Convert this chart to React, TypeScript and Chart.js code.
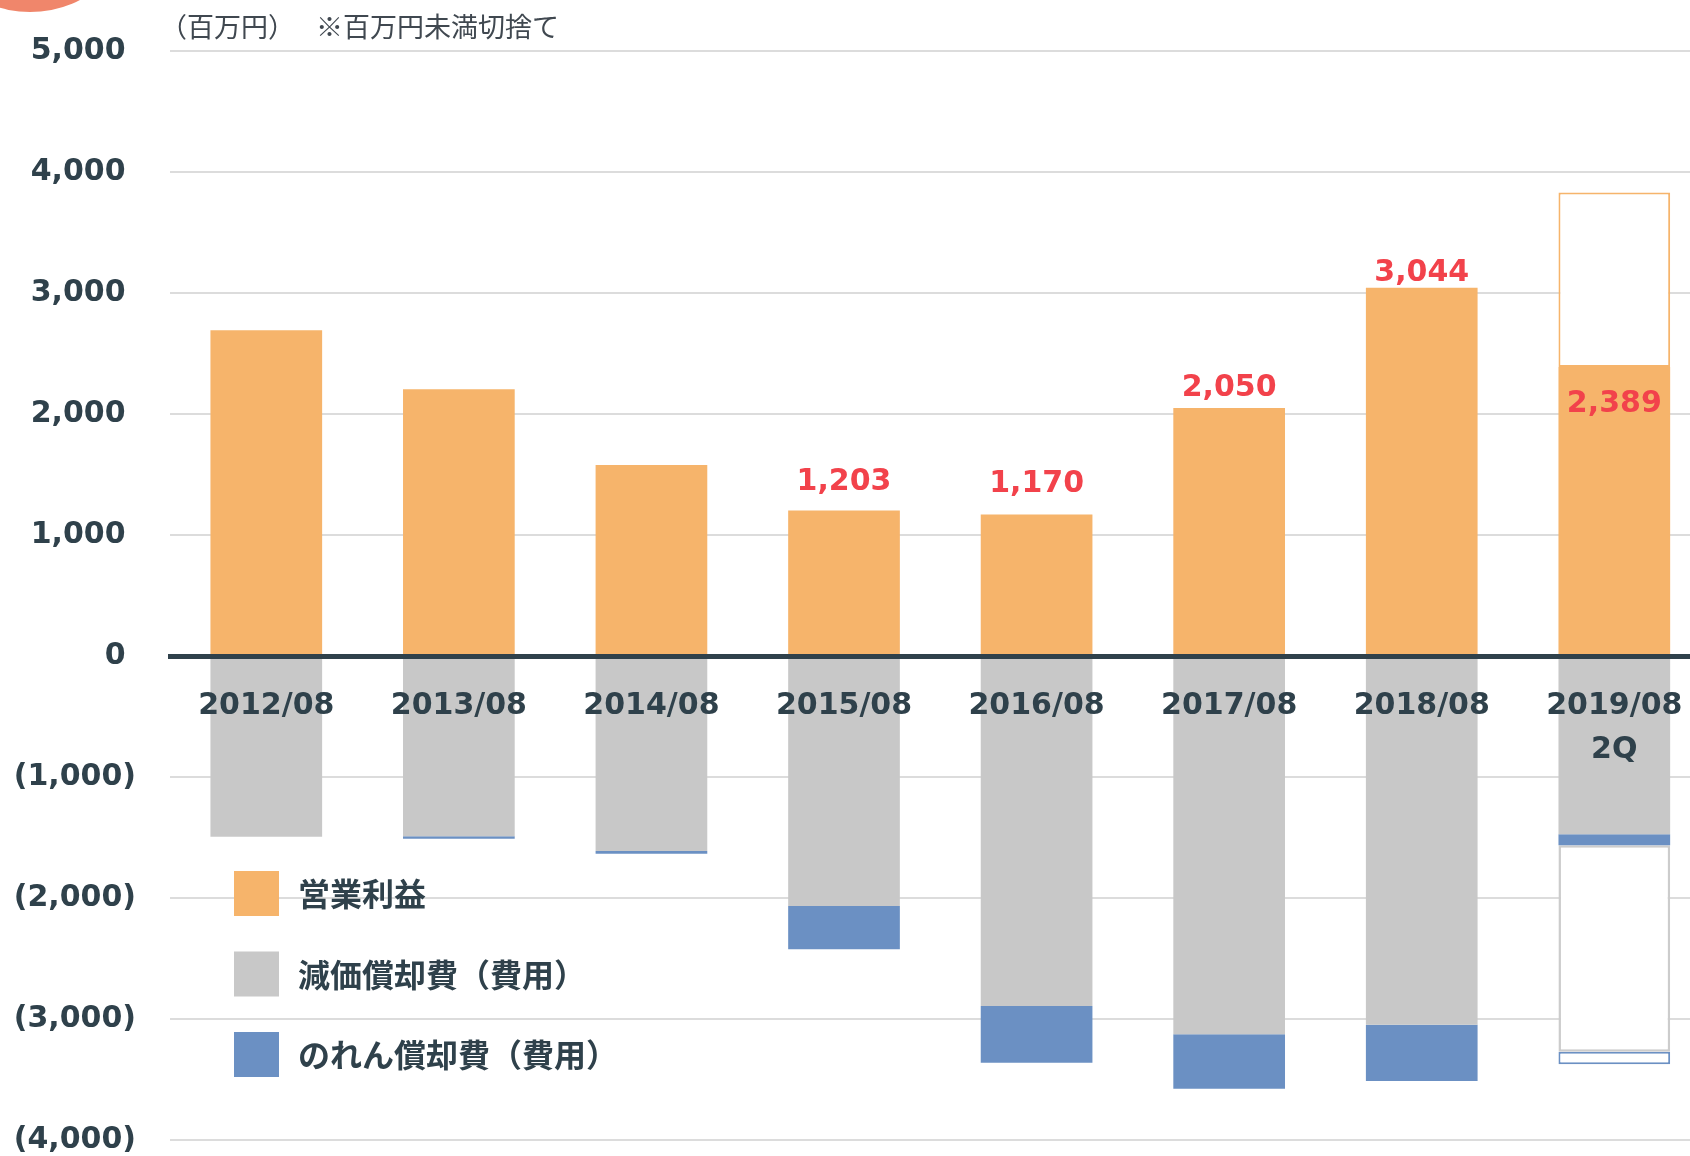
import React, { useEffect, useRef } from 'react';
import { Chart, registerables } from 'chart.js';

Chart.register(...registerables);

// ---- data ----
const categories: (string | string[])[] = [
  '2012/08', '2013/08', '2014/08', '2015/08', '2016/08', '2017/08', '2018/08', ['2019/08', '2Q'],
];
const operatingProfit = [2692, 2204, 1578, 1203, 1170, 2050, 3044, 2389];
const operatingForecastRest = [null, null, null, null, null, null, null, 1441];
const depreciation = [-1493, -1490, -1612, -2066, -2893, -3127, -3047, -1474];
const goodwill = [0, -20, -22, -358, -468, -449, -465, -90];
const depreciationForecastRest = [null, null, null, null, null, null, null, -1706];
const goodwillForecastRest = [null, null, null, null, null, null, null, -104];
const labeledBars = [false, false, false, true, true, true, true, true];
const yMin = -4000;
const yMax = 5000;
const yStep = 1000;
const unitText = '（百万円）';
const noteText = '※百万円未満切捨て';

// ---- styles ----
const ORANGE = '#F6B46B';
const GRAY = '#C8C8C8';
const BLUE = '#6B90C3';
const DARK = '#2F414B';
const RED = '#F2424B';
const TICK_FONT = '"DejaVu Sans", Verdana, sans-serif';
const labelOffsets = [0, 0, 0, 28, 30, 20, 14, -37];

const decorPlugin = {
  id: 'decor',
  afterDraw(chart: any) {
    const ctx = chart.ctx;
    ctx.save();
    ctx.fillStyle = '#F0866B';
    ctx.beginPath();
    ctx.arc(30, -98, 110, 0, Math.PI * 2);
    ctx.fill();
    ctx.fillStyle = '#404850';
    ctx.font = '27px "Noto Sans CJK JP", sans-serif';
    ctx.textBaseline = 'middle';
    ctx.textAlign = 'left';
    ctx.fillText(unitText, 160, 27);
    ctx.fillText(noteText, 316, 27);
    ctx.restore();
  },
};

const legendPlugin = {
  id: 'customLegend',
  afterDraw(chart: any) {
    const ctx = chart.ctx;
    const items = [0, 2, 3];
    ctx.save();
    items.forEach((di, k) => {
      const ds = chart.data.datasets[di];
      const y = 871 + k * 80.5;
      ctx.fillStyle = ds.backgroundColor;
      ctx.fillRect(234, y, 45, 45);
      ctx.fillStyle = DARK;
      ctx.font = 'bold 32px "Noto Sans CJK JP", sans-serif';
      ctx.textBaseline = 'middle';
      ctx.textAlign = 'left';
      ctx.fillText(ds.label, 298, y + 23);
    });
    ctx.restore();
  },
};

const valueLabelPlugin = {
  id: 'valueLabels',
  afterDatasetsDraw(chart: any) {
    const ctx = chart.ctx;
    const meta = chart.getDatasetMeta(0);
    ctx.save();
    ctx.fillStyle = RED;
    ctx.font = `bold 30px ${TICK_FONT}`;
    ctx.textAlign = 'center';
    ctx.textBaseline = 'middle';
    meta.data.forEach((bar: any, i: number) => {
      if (!labeledBars[i]) return;
      const v = operatingProfit[i];
      ctx.fillText(v.toLocaleString('en-US'), bar.x, bar.y - labelOffsets[i]);
    });
    ctx.restore();
  },
};

export default function App() {
  const ref = useRef<HTMLCanvasElement>(null);

  useEffect(() => {
    const canvas = ref.current;
    if (!canvas) return;
    const chart = new Chart(canvas, {
      type: 'bar',
      data: {
        labels: categories,
        datasets: [
          { label: '営業利益', data: operatingProfit, backgroundColor: ORANGE, borderWidth: 0 },
          {
            label: '営業利益（通期予想）', data: operatingForecastRest, backgroundColor: '#FFFFFF',
            borderColor: ORANGE, borderWidth: 2, borderSkipped: false,
          },
          { label: '減価償却費（費用）', data: depreciation, backgroundColor: GRAY, borderWidth: 0 },
          { label: 'のれん償却費（費用）', data: goodwill, backgroundColor: BLUE, borderWidth: 0 },
          {
            label: '減価償却費（通期予想）', data: depreciationForecastRest, backgroundColor: '#FFFFFF',
            borderColor: '#CCCCCC', borderWidth: 2.5, borderSkipped: false,
          },
          {
            label: 'のれん償却費（通期予想）', data: goodwillForecastRest, backgroundColor: '#FFFFFF',
            borderColor: BLUE, borderWidth: 2, borderSkipped: false,
          },
        ] as any,
      },
      options: {
        responsive: false,
        animation: false,
        devicePixelRatio: 1,
        layout: { padding: { top: 51, bottom: 16, left: 0, right: 9.4 } },
        datasets: { bar: { barPercentage: 0.58, categoryPercentage: 1.0 } },
        plugins: { legend: { display: false }, tooltip: { enabled: false } },
        scales: {
          x: {
            stacked: true,
            position: { y: 0 } as any,
            offset: true,
            afterFit: (s: any) => { s.height = 0; },
            grid: { display: false },
            border: { display: true, color: DARK, width: 5, z: 1 } as any,
            ticks: {
              z: 1,
              color: DARK,
              padding: 20,
              maxRotation: 0,
              autoSkip: false,
              font: { family: TICK_FONT, size: 30, weight: 'bold', lineHeight: 1.47 },
            },
          },
          y: {
            stacked: true,
            min: yMin,
            max: yMax,
            afterFit: (s: any) => { s.width = 170; s.paddingTop = 0; s.paddingBottom = 0; },
            grid: {
              color: (c: any) => (c.tick && c.tick.value === 0 ? 'rgba(0,0,0,0)' : '#DCDCDC'),
              lineWidth: 2,
              drawTicks: false,
            },
            border: { display: false },
            ticks: {
              stepSize: yStep,
              padding: 34,
              color: DARK,
              font: { family: TICK_FONT, size: 30, weight: 'bold' },
              callback: (v: any) => {
                const n = Number(v);
                const s = Math.abs(n).toLocaleString('en-US');
                return n < 0 ? `(${s})` : `${s} `;
              },
            },
          },
        },
      },
      plugins: [valueLabelPlugin, legendPlugin, decorPlugin],
    });
    return () => chart.destroy();
  }, []);

  return (
    <div
      style={{
        position: 'fixed', left: 0, top: 0, width: 1690, height: 1156,
        overflow: 'hidden', background: '#FFFFFF',
      }}
    >
      <canvas ref={ref} width={1720} height={1156} style={{ display: 'block', width: 1720, height: 1156 }} />
    </div>
  );
}
